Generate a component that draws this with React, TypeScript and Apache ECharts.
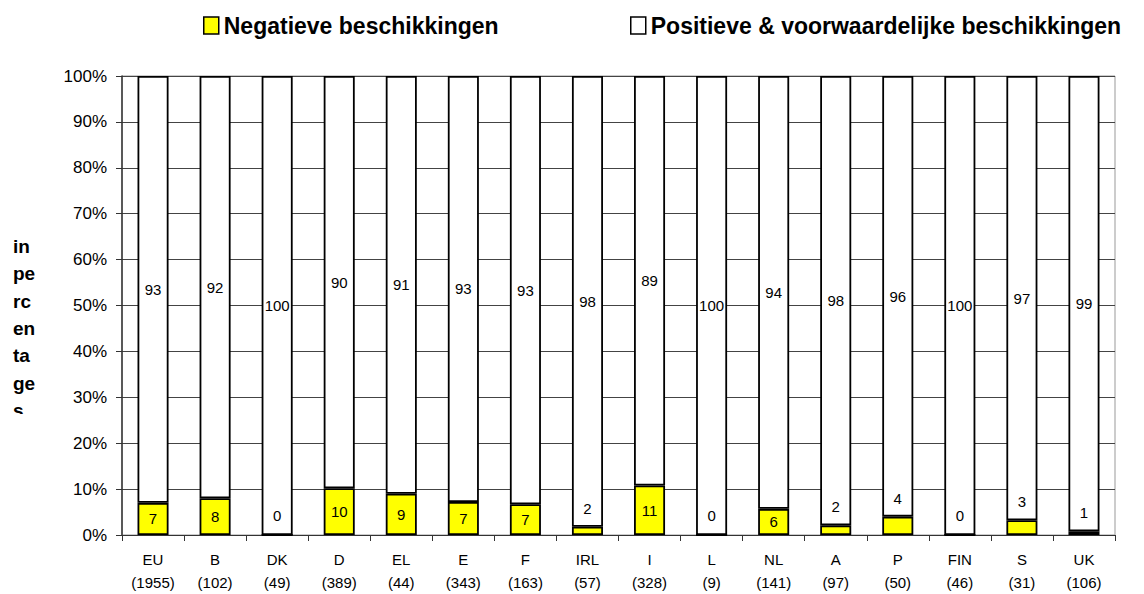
import React, { useEffect, useRef } from "react";
import * as echarts from "echarts";

const countries = ["EU", "B", "DK", "D", "EL", "E", "F", "IRL", "I", "L", "NL", "A", "P", "FIN", "S", "UK"];
const totals = [1955, 102, 49, 389, 44, 343, 163, 57, 328, 9, 141, 97, 50, 46, 31, 106];
const negative = [7.0, 8.0, 0, 10.2, 9.0, 7.2, 6.7, 1.8, 10.8, 0, 5.7, 2.1, 4.0, 0, 3.2, 0.8];
const positive = [93.0, 92.0, 100, 89.8, 91.0, 92.8, 93.3, 98.2, 89.2, 100, 94.3, 97.9, 96.0, 100, 96.8, 99.2];
const seriesNames = ["Negatieve beschikkingen", "Positieve & voorwaardelijke beschikkingen"];
const yTitleLines = ["in", "pe", "rc", "en", "ta", "ge", "s"];

const FONT = "'Liberation Sans', Arial, sans-serif";

export default function App() {
  const ref = useRef<HTMLDivElement>(null);
  useEffect(() => {
    if (!ref.current) return;
    const chart = echarts.init(ref.current, undefined, { renderer: "svg" });
    const categories = countries.map((c, i) => `${c}\n(${totals[i]})`);
    const negData = negative.map((v) => ({
      value: v,
      label:
        v >= 5
          ? { show: true, position: "inside" }
          : { show: true, position: "top", distance: 11 },
    }));
    const legendText = { fontSize: 23, fontWeight: "bold", color: "#000", fontFamily: FONT };
    chart.setOption({
      animation: false,
      textStyle: { fontFamily: FONT },
      legend: [
        {
          data: [seriesNames[0]],
          left: 203,
          top: 14,
          padding: 0,
          itemWidth: 15,
          itemHeight: 17,
          icon: "rect",
          itemStyle: { borderColor: "#000", borderWidth: 1.5 },
          textStyle: legendText,
        },
        {
          data: [seriesNames[1]],
          left: 630,
          top: 14,
          padding: 0,
          itemWidth: 15,
          itemHeight: 17,
          icon: "rect",
          itemStyle: { borderColor: "#000", borderWidth: 1.5 },
          textStyle: legendText,
        },
      ],
      grid: {
        left: 122,
        right: 29,
        top: 76,
        bottom: 55,
        show: true,
        borderColor: "#999",
        borderWidth: 1,
        backgroundColor: "transparent",
      },
      xAxis: {
        type: "category",
        data: categories,
        axisLine: { lineStyle: { color: "#333", width: 1 } },
        axisTick: { show: true, length: 6, lineStyle: { color: "#333" } },
        axisLabel: {
          fontSize: 15,
          color: "#000",
          lineHeight: 23,
          margin: 13,
          interval: 0,
          fontFamily: FONT,
        },
      },
      yAxis: {
        type: "value",
        min: 0,
        max: 100,
        interval: 10,
        axisLine: { show: true, lineStyle: { color: "#333", width: 1.5 } },
        axisTick: { show: true, length: 6, lineStyle: { color: "#333" } },
        axisLabel: { formatter: "{value}%", fontSize: 17, color: "#000", margin: 15, fontFamily: FONT },
        splitLine: { show: true, lineStyle: { color: "#444", width: 1 } },
      },
      graphic: [
        {
          type: "text",
          left: 13,
          top: 233,
          z: 10,
          style: {
            text: yTitleLines.join("\n"),
            fontSize: 19,
            fontWeight: "bold",
            lineHeight: 27.3,
            fill: "#000",
            fontFamily: FONT,
          },
        },
        {
          type: "rect",
          shape: { x: 0, y: 414, width: 60, height: 30 },
          z: 11,
          style: { fill: "#fff" },
        },
      ],
      series: [
        {
          name: seriesNames[0],
          type: "bar",
          stack: "total",
          barWidth: "50%",
          data: negData,
          itemStyle: { color: "#FFFF00", borderColor: "#000", borderWidth: 1.8 },
          label: {
            show: true,
            fontSize: 15,
            color: "#000",
            fontFamily: FONT,
            formatter: (p: any) => String(Math.round(p.value)),
          },
        },
        {
          name: seriesNames[1],
          type: "bar",
          stack: "total",
          barWidth: "50%",
          data: positive,
          itemStyle: { color: "#FFFFFF", borderColor: "#000", borderWidth: 1.8 },
          label: {
            show: true,
            position: "inside",
            fontSize: 15,
            color: "#000",
            backgroundColor: "#fff",
            fontFamily: FONT,
            formatter: (p: any) => String(Math.round(p.value)),
          },
        },
      ],
    });
    return () => chart.dispose();
  }, []);
  return (
    <div
      ref={ref}
      style={{ position: "absolute", left: 0, top: 0, width: 1144, height: 594, background: "#fff" }}
    />
  );
}
